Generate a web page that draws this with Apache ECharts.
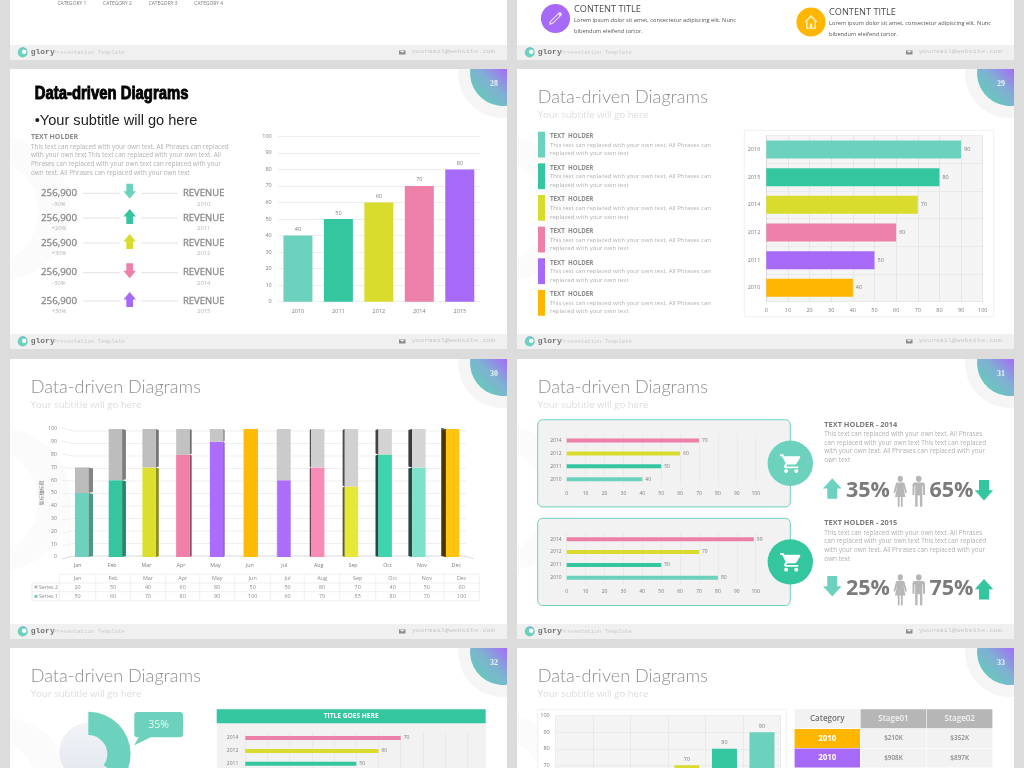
<!DOCTYPE html>
<html>
<head>
<meta charset="utf-8">
<title>Data-driven Diagrams</title>
<script src="https://cdn.jsdelivr.net/npm/echarts@6/dist/echarts.min.js"></script>
<style>
html,body{margin:0;padding:0;background:#dcdcdc;overflow:hidden}
#chart{width:1024px;height:768px}
</style>
</head>
<body>
<div id="chart"></div>
<script>
// palette shared by the slides
var TEAL = '#6dd2bd', GREEN = '#33c69f', YELLOW = '#d9dc2d', PINK = '#ec80a8', PURPLE = '#a769f7', ORANGE = '#ffb600';

// slide 28
var revYears = ['2010', '2011', '2012', '2014', '2015'];
var revValues = [40, 50, 60, 70, 80];
var revColors = [TEAL, GREEN, YELLOW, PINK, PURPLE];
var revNumbers = ['256,900', '256,900', '256,900', '256,900', '256,900'];
var revChanges = ['-30%', '+20%', '+30%', '-30%', '+30%'];
var revDirections = ['down', 'up', 'up', 'down', 'up'];

// slide 29
var holderYears = ['2010', '2011', '2012', '2014', '2015', '2016'];
var holderValues = [40, 50, 60, 70, 80, 90];
var holderColors = [ORANGE, PURPLE, PINK, YELLOW, GREEN, TEAL];

// slide 30
var months = ['Jan', 'Feb', 'Mar', 'Apr', 'May', 'Jun', 'Jul', 'Aug', 'Sep', 'Oct', 'Nov', 'Dec'];
var series1 = [50, 60, 70, 80, 90, 100, 60, 70, 55, 80, 70, 100];
var series2 = [20, 50, 40, 60, 80, 50, 50, 80, 70, 40, 50, 60];
var monthColors = ['#6dd2bd', '#33c69f', '#dcdf2e', '#ee80a9', '#ac6dfc', '#ffba08', '#ac6dfc', '#f78cb6', '#e6e736', '#3dd5ae', '#7ee2cb', '#ffc310'];
var monthGreys = ['#bcbcbc', '#bdbdbd', '#bebebe', '#c2c2c2', '#c6c6c6', '#c8c8c8', '#cbcbcb', '#cfcfcf', '#d1d1d1', '#d3d3d3', '#d5d5d5', '#d6d6d6'];

// slide 31
var panelYears = ['2010', '2011', '2012', '2014'];
var panelColors = [TEAL, GREEN, YELLOW, PINK];
var panel2014 = [40, 50, 60, 70];
var panel2015 = [80, 50, 70, 99];

// slide 32
var titledValues = [40, 50, 60, 70];
var donutValues = [35, 65];

// slide 33
var stageRows = [['2010', '$210K', '$352K'], ['2010', '$908K', '$897K']];
var stageColors = [ORANGE, PURPLE];

var BODY = 'Open Sans';
var MONO = 'Liberation Mono';
var els = [], pathsBack = [], pathsFront = [];

function txt(x, y, s, size, color, o) {
    o = o || {};
    els.push({
        type: 'text', z: o.z || 10, x: x, y: y, scaleX: o.scaleX || 1,
        style: {
            text: s, fontSize: size, fill: color, fontFamily: o.font || BODY,
            fontWeight: o.weight || 'normal', align: o.align || 'left', verticalAlign: 'middle',
            stroke: o.stroke, lineWidth: o.stroke ? (o.strokeWidth || 0.5) : 0
        }
    });
}
function box(x, y, w, h, fill, o) {
    o = o || {};
    els.push({
        type: 'rect', z: o.z === undefined ? -5 : o.z,
        shape: {x: x, y: y, width: w, height: h, r: o.r || 0},
        style: {fill: fill, stroke: o.stroke, lineWidth: o.stroke ? (o.lineWidth || 1) : 0}
    });
}
function seg(x1, y1, x2, y2, color, width, z) {
    els.push({
        type: 'line', z: z === undefined ? 5 : z,
        shape: {x1: x1, y1: y1, x2: x2, y2: y2},
        style: {stroke: color, lineWidth: width || 1}
    });
}
function dot(x, y, r, fill, z) {
    els.push({type: 'circle', z: z === undefined ? 8 : z, shape: {cx: x, cy: y, r: r}, style: {fill: fill}});
}
function icon(d, x, y, w, h, fill) {
    pathsFront.push({
        type: 'path',
        shape: {pathData: d, layout: 'cover', x: x, y: y, width: w, height: h},
        style: {fill: fill}
    });
}
function arrow(cx, top, w, h, dir, fill) {
    var s = w * 0.27, n = h * 0.5, pts;
    if (dir === 'up') {
        pts = [[cx, top], [cx + w / 2, top + n], [cx + s, top + n], [cx + s, top + h], [cx - s, top + h], [cx - s, top + n], [cx - w / 2, top + n]];
    } else {
        var b = top + h;
        pts = [[cx, b], [cx + w / 2, b - n], [cx + s, b - n], [cx + s, top], [cx - s, top], [cx - s, b - n], [cx - w / 2, b - n]];
    }
    els.push({type: 'polygon', z: 10, shape: {points: pts}, style: {fill: fill}});
}
function shade(color, k) {
    var c = echarts.color.parse(color);
    return 'rgb(' + Math.round(c[0] * k) + ',' + Math.round(c[1] * k) + ',' + Math.round(c[2] * k) + ')';
}
// fine diagonal hatch behind the framed plots
function hatch() {
    var cv = document.createElement('canvas');
    cv.width = cv.height = 4;
    var c = cv.getContext('2d');
    c.fillStyle = '#f3f3f3';
    c.fillRect(0, 0, 4, 4);
    c.strokeStyle = '#f9f9f9';
    c.lineWidth = 1;
    c.beginPath();
    c.moveTo(0, 4);
    c.lineTo(4, 0);
    c.stroke();
    return {image: cv, repeat: 'repeat'};
}

var CART = 'M7 18c-1.1 0-1.99.9-1.99 2S5.9 22 7 22s2-.9 2-2-.9-2-2-2zM1 2v2h2l3.6 7.59-1.35 2.45c-.16.28-.25.61-.25.96 0 1.1.9 2 2 2h12v-2H7.42c-.14 0-.25-.11-.25-.25l.03-.12.9-1.63h7.45c.75 0 1.41-.41 1.75-1.03l3.58-6.49c.08-.12.12-.28.12-.42 0-.55-.45-1-1-1H5.21l-.94-2H1zm16 16c-1.1 0-1.99.9-1.99 2s.89 2 1.99 2 2-.9 2-2-.9-2-2-2z';
var WOMAN = 'M12 0a3.2 3.2 0 1 0 .01 0zM8.5 7h7c1 0 1.6.5 1.9 1.4l2.8 9-1.9.6-2.6-7.4 2.6 11.4H15v10h-2.2V22h-1.6v10H9V22H5.7l2.6-11.4-2.6 7.4-1.9-.6 2.8-9C6.9 7.5 7.5 7 8.5 7z';
var MAN = 'M12 0a3.2 3.2 0 1 0 .01 0zM7.5 7h9c1.6 0 2.5.9 2.5 2.5V20h-2.2v-9.5h-.8V32h-2.7V20.5h-2.6V32H8V10.5h-.8V20H5V9.5C5 7.9 5.9 7 7.5 7z';
var PENCIL = 'M3 21l1.2-5L16 4.2a2 2 0 0 1 2.8 0l1 1a2 2 0 0 1 0 2.8L8 19.8zM6 16.4l-.6 2.2 2.2-.6L17 8.6 15.4 7z';
var HOUSE = 'M12 3L2 12h3v9h14v-9h3zM12 5.8l5 4.5V19.4h-3.2V14h-3.6v5.4H7v-9.1z';
var MAIL = 'M0 0h24v16H0zM2 2l10 7 10-7z';

function corner(sx, sy, num) {
    // clipped discs at the top-right of a slide
    function clipped(r) {
        var R = sx + 497, cx = sx + 493, cy = sy + 4, T = sy;
        var xa = cx - Math.sqrt(r * r - (T - cy) * (T - cy));
        var yb = cy + Math.sqrt(r * r - (R - cx) * (R - cx));
        return 'M' + xa + ' ' + T + 'A' + r + ' ' + r + ' 0 0 0 ' + R + ' ' + yb + 'L' + R + ' ' + T + 'Z';
    }
    pathsBack.push({type: 'path', shape: {pathData: clipped(45)}, style: {fill: '#f5f5f5'}});
    pathsBack.push({
        type: 'path', shape: {pathData: clipped(33)},
        style: {fill: {type: 'linear', x: 0.1, y: 0.9, x2: 1, y2: 0, colorStops: [{offset: 0, color: '#5fd2b4'}, {offset: 0.55, color: '#7fb0d2'}, {offset: 1, color: '#a76bf8'}]}}
    });
    txt(sx + 484, sy + 15, num, 8, '#e6f5f3', {font: 'Liberation Serif', align: 'center', weight: 'bold'});
}

function swoosh(sx, sy) {
    // faint arc on the left side of a slide
    var top = sy + 69, bot = sy + 211, t2 = sy + 95, b2 = sy + 190;
    var d = 'M' + sx + ' ' + top + 'A72 72 0 0 1 ' + sx + ' ' + bot + 'L' + sx + ' ' + b2 + 'A54 54 0 0 0 ' + sx + ' ' + t2 + 'Z';
    pathsBack.push({type: 'path', shape: {pathData: d}, style: {fill: '#fbfbfb'}});
}

function footer(sx, fy) {
    box(sx, fy, 497, 15, '#f0f0f0');
    dot(sx + 12.7, fy + 7.5, 5, TEAL);
    pathsFront.push({type: 'path', shape: {pathData: 'M' + (sx + 9) + ' ' + (fy + 4) + 'A5 5 0 0 1 ' + (sx + 17) + ' ' + (fy + 5) + 'A6 6 0 0 0 ' + (sx + 9) + ' ' + (fy + 4) + 'Z'}, style: {fill: '#5b8fd6'}});
    dot(sx + 14.2, fy + 6.8, 2.2, '#ffffff', 9);
    txt(sx + 20.7, fy + 6.7, 'glory', 8, '#737373', {font: MONO, weight: 'bold'});
    txt(sx + 43.3, fy + 7.2, 'Presentation Template', 5.7, '#cccccc', {font: MONO});
    icon(MAIL, sx + 389, fy + 5.3, 6.5, 4.3, '#8c8c8c');
    txt(sx + 401.7, fy + 6.8, 'yourmail@website.com', 5.5, '#c8c8c8', {font: MONO, scaleX: 1.26});
}

function slide(sx, sy, num, plainTitle) {
    box(sx, sy, 497, 280, '#ffffff', {z: -6});
    swoosh(sx, sy);
    corner(sx, sy, num);
    footer(sx, sy + 265);
    if (plainTitle) {
        txt(sx + 20.7, sy + 28.5, 'Data-driven Diagrams', 18.1, '#8e8e8e', {font: 'Lato', weight: 300});
        txt(sx + 20.7, sy + 46.5, 'Your subtitle will go here', 9.6, '#dddddd');
    }
}

var grids = [], xAxes = [], yAxes = [], series = [];

function labelStyle(size) {
    return {fontSize: size || 5.5, color: '#7c7c7c', fontFamily: BODY};
}
function newGrid(rect) {
    rect.containLabel = false;
    rect.outerBoundsMode = 'none';
    grids.push(rect);
    return grids.length - 1;
}

function hbars(rect, cats, vals, colors, barH, o) {
    o = o || {};
    var g = newGrid(rect);
    xAxes.push({
        type: 'value', gridIndex: g, min: 0, max: 100, interval: 10,
        axisLine: {show: false}, axisTick: {show: false},
        axisLabel: Object.assign(labelStyle(o.labelSize), {margin: o.xMargin || 6}),
        splitLine: {show: true, lineStyle: {color: o.splitColor || '#e2e2e2', width: 0.6}}
    });
    yAxes.push({
        type: 'category', gridIndex: g, data: cats,
        axisLine: {show: !!o.spine, lineStyle: {color: '#cfcfcf', width: 0.6}}, axisTick: {show: false},
        axisLabel: Object.assign(labelStyle(o.labelSize), {margin: o.yMargin || 6}),
        splitLine: {show: !!o.hLines, lineStyle: {color: '#e2e2e2', width: 0.6}}
    });
    series.push({
        type: 'bar', xAxisIndex: xAxes.length - 1, yAxisIndex: yAxes.length - 1,
        barWidth: barH, silent: true, animation: false,
        data: vals.map(function (v, i) {
            return {value: v, itemStyle: {color: colors[i]}};
        }),
        label: {show: true, position: 'right', distance: 3, fontSize: o.labelSize || 5.5, color: '#7c7c7c', fontFamily: BODY}
    });
}

function vbars(rect, cats, vals, colors, barW, o) {
    o = o || {};
    var g = newGrid(rect);
    xAxes.push({
        type: 'category', gridIndex: g, data: cats,
        axisLine: {show: !!o.spine, lineStyle: {color: '#d8d8d8', width: 0.6}}, axisTick: {show: false},
        axisLabel: Object.assign(labelStyle(), {margin: 7}),
        splitLine: {show: !!o.vLines, lineStyle: {color: '#e2e2e2', width: 0.6}}
    });
    yAxes.push({
        type: 'value', gridIndex: g, min: 0, max: 100, interval: 10,
        axisLine: {show: false}, axisTick: {show: false},
        axisLabel: Object.assign(labelStyle(), {margin: 6}),
        splitLine: {show: true, lineStyle: {color: '#e6e6e6', width: 0.7}}
    });
    series.push({
        type: 'bar', xAxisIndex: xAxes.length - 1, yAxisIndex: yAxes.length - 1,
        barWidth: barW, silent: true, animation: false,
        data: vals.map(function (v, i) {
            return {value: v, itemStyle: {color: colors[i]}};
        }),
        label: {show: true, position: 'top', distance: 3, fontSize: 5.5, color: '#7c7c7c', fontFamily: BODY}
    });
}

// ---- top row, only the feet of the slides are visible
box(10, -220, 497, 280, '#ffffff', {z: -6});
footer(10, 45);
['CATEGORY 1', 'CATEGORY 2', 'CATEGORY 3', 'CATEGORY 4'].forEach(function (c, i) {
    txt(57.5 + i * 45.6, 3.5, c, 4.9, '#777777');
});
box(517, -220, 497, 280, '#ffffff', {z: -6});
footer(517, 45);
dot(555.5, 18.5, 14.6, PURPLE);
icon(PENCIL, 549, 12, 13, 13, '#e9dcfd');
txt(574, 9, 'CONTENT TITLE', 9.2, '#4a4a4a');
txt(574, 20, 'Lorem ipsum dolor sit amet, consectetur adipiscing elit. Nunc', 5.7, '#555555');
txt(574, 31, 'bibendum eleifend tortor.', 5.7, '#555555');
dot(811, 22, 14.6, ORANGE);
icon(HOUSE, 804, 15, 14, 14, '#ffeeb8');
txt(829, 12.5, 'CONTENT TITLE', 9.2, '#4a4a4a');
txt(829, 23.5, 'Lorem ipsum dolor sit amet, consectetur adipiscing elit. Nunc', 5.7, '#555555');
txt(829, 34.5, 'bibendum eleifend tortor.', 5.7, '#555555');

// ---- slide 28
slide(10, 69, '28', false);
txt(34.7, 94.5, 'Data-driven Diagrams', 17.5, '#000000', {font: 'Liberation Sans', weight: 'bold', stroke: '#000000', strokeWidth: 0.9, scaleX: 0.85});
txt(34.7, 121, '•Your subtitle will go here', 14.6, '#222222', {font: 'Liberation Sans'});
txt(31, 137, 'TEXT HOLDER', 7, '#8a8a8a', {weight: 'bold'});
['This text can replaced with your own text. All Phrases can replaced',
 'with your own text This text can replaced with your own text. All',
 'Phrases can replaced with your own text can replaced with your',
 'own text. All Phrases can replaced with your own text'].forEach(function (l, i) {
    txt(31, 146.7 + i * 8.7, l, 6.4, '#b0b0b0');
});
var revRowY = [193.3, 218, 243, 272.7, 301];
revYears.forEach(function (y, i) {
    var ry = revRowY[i];
    txt(59, ry, revNumbers[i], 9.8, '#8a8a8a', {align: 'center', stroke: '#8a8a8a', strokeWidth: 0.3});
    txt(59, ry + 10.7, revChanges[i], 5.8, '#b4b4b4', {align: 'center'});
    seg(82.7, ry, 120, ry, '#d6d6d6', 0.7);
    seg(141, ry, 178, ry, '#d6d6d6', 0.7);
    arrow(129.7, ry - 9.5 + (revDirections[i] === 'up' ? 0.5 : 0), 12.5, 15, revDirections[i], revColors[i]);
    txt(203.7, ry, 'REVENUE', 9.5, '#8a8a8a', {align: 'center', stroke: '#8a8a8a', strokeWidth: 0.3});
    txt(203.7, ry + 10.7, y, 5.8, '#b4b4b4', {align: 'center'});
});
vbars({left: 277.7, top: 136.3, width: 202.3, height: 165.4}, revYears, revValues, revColors, 29);

// ---- slide 29
slide(517, 69, '29', true);
box(744.3, 130.3, 249.4, 186.4, '#ffffff', {stroke: '#ececec', lineWidth: 0.8, z: -3});
holderColors.slice().reverse().forEach(function (c, i) {
    var top = 131.7 + i * 31.65;
    box(538, top, 7, 25.8, c, {z: 5});
    txt(550, top + 4.7, 'TEXT  HOLDER', 6.2, '#8a8a8a', {weight: 'bold'});
    txt(550, top + 13.2, 'This text can replaced with your own text. All Phrases can', 6.05, '#b0b0b0');
    txt(550, top + 21.8, 'replaced with your own text', 6.05, '#b0b0b0');
});
hbars({left: 766.3, top: 135.7, width: 216.4, height: 166, show: true, backgroundColor: hatch(), borderWidth: 0},
    holderYears, holderValues, holderColors, 18, {xMargin: 6, yMargin: 6, spine: true, hLines: true, splitColor: '#dedede'});

// ---- slide 30
slide(10, 359, '30', true);
var wallG = newGrid({left: 60.5, top: 431, width: 413, height: 125});
xAxes.push({
    type: 'category', gridIndex: wallG, data: months,
    axisLine: {show: false}, axisTick: {show: false},
    axisLabel: Object.assign(labelStyle(5.3), {margin: 7}), splitLine: {show: false}
});
yAxes.push({type: 'value', gridIndex: wallG, min: 0, max: 100, interval: 10, show: false});
var wallTicks = [0, 10, 20, 30, 40, 50, 60, 70, 80, 90, 100];
series.push({
    type: 'custom', xAxisIndex: xAxes.length - 1, yAxisIndex: yAxes.length - 1, z: 1, silent: true, animation: false,
    clip: false,
    data: wallTicks.map(function (t) { return [0, t]; }),
    renderItem: function (params, api) {
        var v = api.value(1), y = api.coord([0, v])[1];
        var yFront = y - (v - 50) * 0.06;
        return {
            type: 'polyline',
            shape: {points: [[62, yFront], [73, y], [466, y]]},
            style: {fill: null, stroke: v === 0 ? '#cfcfcf' : '#ebebeb', lineWidth: 0.8}
        };
    }
});
var barG = newGrid({left: 64.8, top: 429, width: 404.7, height: 128});
xAxes.push({type: 'category', gridIndex: barG, data: months, axisLine: {show: false}, axisTick: {show: false}, axisLabel: {show: false}});
yAxes.push({
    type: 'value', gridIndex: barG, min: 0, max: 100, interval: 10,
    name: '坐标轴标题', nameLocation: 'middle', nameGap: 21, nameRotate: 90,
    nameTextStyle: {fontSize: 5, color: '#7c7c7c', fontFamily: 'Noto Sans CJK SC'},
    axisLine: {show: false}, axisTick: {show: false}, splitLine: {show: false},
    axisLabel: Object.assign(labelStyle(5), {margin: 8})
});
var barX = xAxes.length - 1, barY = yAxes.length - 1, BAR30 = 13.4;
function sideFace(lows, highs, pickColor) {
    return {
        type: 'custom', xAxisIndex: barX, yAxisIndex: barY, z: 2, silent: true, animation: false,
        clip: false,
        data: months.map(function (m, i) { return [i, lows(i), Math.min(highs(i), 100)]; }),
        renderItem: function (params, api) {
            var i = api.value(0), a = api.coord([i, api.value(1)]), b = api.coord([i, api.value(2)]);
            var depth = (5.5 - i) * 0.85;
            var edge = a[0] + (depth > 0 ? BAR30 / 2 : -BAR30 / 2);
            return {
                type: 'polygon',
                shape: {points: [[edge, a[1]], [edge + depth, a[1] - 1], [edge + depth, b[1] + 1], [edge, b[1]]]},
                style: {fill: shade(pickColor(i), 0.72 - i * 0.04)}
            };
        }
    };
}
series.push(sideFace(function () { return 0; }, function (i) { return series1[i]; }, function (i) { return monthColors[i]; }));
series.push(sideFace(function (i) { return Math.min(series1[i], 100); }, function (i) { return series1[i] + series2[i]; }, function () { return '#b8b8b8'; }));
series.push({
    name: 'Series 1', type: 'bar', stack: 'months', xAxisIndex: barX, yAxisIndex: barY, z: 3,
    barWidth: BAR30, silent: true, animation: false,
    data: series1.map(function (v, i) { return {value: v, itemStyle: {color: monthColors[i]}}; })
});
series.push({
    name: 'Series 2', type: 'bar', stack: 'months', xAxisIndex: barX, yAxisIndex: barY, z: 3,
    barWidth: BAR30, silent: true, animation: false,
    data: series2.map(function (v, i) { return {value: v, itemStyle: {color: monthGreys[i]}}; })
});
seg(465, 556.5, 473.5, 558.5, '#cfcfcf', 0.8, 1);
// data table under the stacked bars
var colEdges = [59.3, 95.7, 130.3, 165.7, 199.7, 234.7, 270.7, 304.3, 339.7, 375.7, 409.7, 444, 479.3];
var rowEdges = [574.3, 583, 591.7, 600.7];
rowEdges.forEach(function (y, i) {
    seg(i === 0 ? 59.3 : 32, y, 479.3, y, '#e6e6e6', 0.6);
});
colEdges.forEach(function (x, i) {
    seg(x, 574.3, x, 600.7, '#e6e6e6', 0.6);
});
seg(32, 583, 32, 600.7, '#e6e6e6', 0.6);
months.forEach(function (m, i) {
    var cx = (colEdges[i] + colEdges[i + 1]) / 2;
    txt(cx, 578.9, m, 5.4, '#8c8c8c', {align: 'center'});
    txt(cx, 587.4, String(series2[i]), 5.4, '#8c8c8c', {align: 'center'});
    txt(cx, 596.4, String(series1[i]), 5.4, '#8c8c8c', {align: 'center'});
});
box(34.5, 585.5, 3, 3, '#b9b9b9', {z: 5});
box(34.5, 594.8, 3, 3, TEAL, {z: 5});
txt(39, 587.4, 'Series 2', 5.2, '#8c8c8c');
txt(39, 596.4, 'Series 1', 5.2, '#8c8c8c');

// ---- slide 31
slide(517, 359, '31', true);
function cartPanel(top, values, circleColor, title, lines, left, right) {
    box(537.7, top, 252.6, 87.2, '#f2f2f2', {stroke: TEAL, lineWidth: 1, r: 5, z: -2});
    hbars({left: 566.7, top: top + 14.4, width: 189, height: 51.5}, panelYears, values, panelColors, 4,
        {labelSize: 5, xMargin: 5, yMargin: 5, splitColor: '#e4e4e4'});
    dot(790.3, top + 43.6, 22.7, circleColor);
    icon(CART, 780, top + 34.6, 20.3, 18.6, '#ffffff');
    txt(824.3, top + 5, title, 7.4, '#7a7a7a', {weight: 'bold'});
    lines.forEach(function (l, i) {
        txt(824.3, top + 14.6 + i * 8.6, l, 6.4, '#b0b0b0');
    });
    arrow(832.3, top + left.top, 18.5, 20.5, left.dir, left.color);
    txt(846, top + 71, left.text, 21.5, '#7b7b7b', {weight: 'bold'});
    icon(WOMAN, 893.5, top + 56, 13.5, 31, '#b7b7b7');
    icon(MAN, 912.5, top + 56, 12.5, 31, '#b7b7b7');
    txt(929.5, top + 71, right.text, 21.5, '#7b7b7b', {weight: 'bold'});
    arrow(984, top + right.top, 18.5, 20.5, right.dir, right.color);
}
var paragraph31 = ['This text can replaced with your own text. All Phrases',
    'can replaced with your own text This text can replaced',
    'with your own text. All Phrases can replaced with your',
    'own text'];
cartPanel(419.7, panel2014, TEAL, 'TEXT HOLDER - 2014', paragraph31,
    {text: '35%', dir: 'up', color: TEAL, top: 58.5}, {text: '65%', dir: 'down', color: GREEN, top: 60.3});
cartPanel(518.3, panel2015, GREEN, 'TEXT HOLDER - 2015', paragraph31,
    {text: '25%', dir: 'down', color: TEAL, top: 57.7}, {text: '75%', dir: 'up', color: GREEN, top: 60.7});

// ---- slide 32
slide(10, 648, '32', true);
series.push({
    type: 'pie', center: [88.3, 752], radius: [0, 29], silent: true, animation: false, z: 1,
    label: {show: false}, labelLine: {show: false},
    data: [{value: 1, itemStyle: {color: {type: 'linear', x: 0, y: 0, x2: 0, y2: 1, colorStops: [{offset: 0, color: '#f1f3f7'}, {offset: 1, color: '#e2e7ef'}]}}}]
});
series.push({
    type: 'pie', center: [88.3, 754], radius: [19, 42.3], startAngle: 90, clockwise: true, silent: true, animation: false, z: 2,
    label: {show: false}, labelLine: {show: false},
    data: [{value: donutValues[0], itemStyle: {color: TEAL}}, {value: donutValues[1], itemStyle: {color: 'rgba(0,0,0,0)'}}]
});
els.push({type: 'polygon', z: 8, shape: {points: [[140, 735], [134, 745.5], [153, 736]]}, style: {fill: TEAL}});
box(134.3, 712, 48.7, 25.3, TEAL, {r: 3, z: 7});
txt(158.7, 725, '35%', 10.5, '#e9f9f5', {align: 'center'});
box(216.7, 723.3, 269, 50, '#f2f2f2', {z: -2});
box(216.7, 709.3, 269, 14, GREEN, {z: 5});
txt(351.2, 716.5, 'TITLE GOES HERE', 6.6, '#ffffff', {align: 'center', weight: 'bold'});
hbars({left: 245.3, top: 731.6, width: 222, height: 51.5}, panelYears, titledValues, panelColors, 4,
    {labelSize: 5, xMargin: 5, yMargin: 7, splitColor: '#e4e4e4'});

// ---- slide 33
slide(517, 648, '33', true);
box(537.7, 709.3, 248.6, 70, '#ffffff', {stroke: '#ececec', lineWidth: 0.8, z: -3});
vbars({left: 555.7, top: 715.7, width: 225, height: 165.5, show: true, backgroundColor: hatch(), borderWidth: 0},
    holderYears, holderValues, holderColors, 25, {vLines: true});
var stageX = [794.3, 860.3, 926.7, 992.7];
var stageHead = ['Category', 'Stage01', 'Stage02'];
stageHead.forEach(function (h, i) {
    box(stageX[i] + 0.3, 709.3, stageX[i + 1] - stageX[i] - 0.6, 19, i === 0 ? '#f2f2f2' : '#b6b6b6', {z: 5});
    txt((stageX[i] + stageX[i + 1]) / 2, 719, h, 8, i === 0 ? '#707070' : '#f4f4f4', {align: 'center', weight: 600});
});
stageRows.forEach(function (row, r) {
    var top = 728.9 + r * 19.6;
    row.forEach(function (cell, i) {
        box(stageX[i] + 0.3, top, stageX[i + 1] - stageX[i] - 0.6, 19, i === 0 ? stageColors[r] : '#f2f2f2', {z: 5});
        txt((stageX[i] + stageX[i + 1]) / 2, top + 9.7, cell, i === 0 ? 8 : 6.4, i === 0 ? '#ffffff' : '#8a8a8a', {align: 'center', weight: i === 0 ? 'bold' : 600});
    });
});

// hand-drawn shapes go through custom series, graphic has no free path type
function pathLayer(list, z) {
    return {
        type: 'custom', coordinateSystem: 'none', z: z, silent: true, animation: false,
        data: [[0]],
        renderItem: function () {
            return {type: 'group', children: list};
        }
    };
}
series.push(pathLayer(pathsBack, -4));
series.push(pathLayer(pathsFront, 10));

var chart = echarts.init(document.getElementById('chart'), null, {renderer: 'canvas', devicePixelRatio: 1});
chart.setOption({
    animation: false,
    backgroundColor: '#dcdcdc',
    tooltip: {show: false},
    grid: grids,
    xAxis: xAxes,
    yAxis: yAxes,
    series: series,
    graphic: {elements: els}
});
</script>
</body>
</html>
